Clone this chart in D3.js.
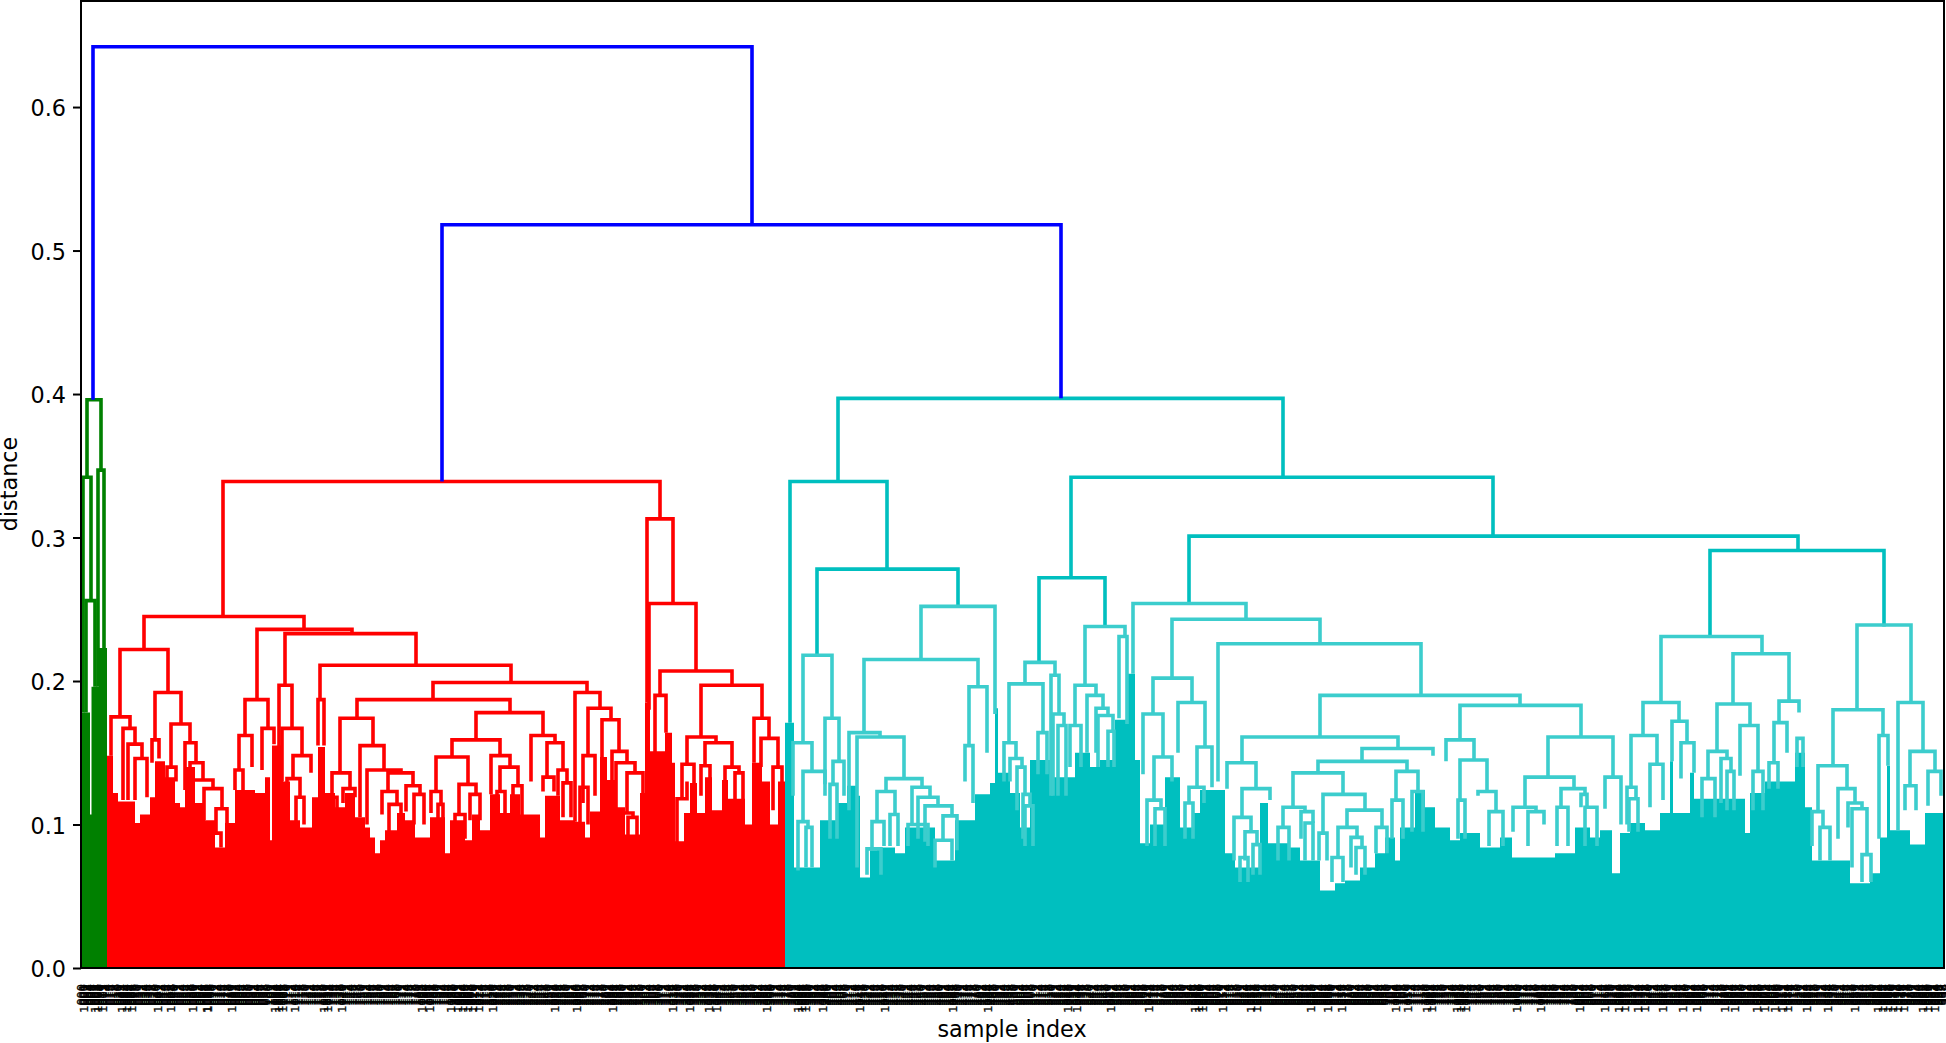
<!DOCTYPE html>
<html>
<head>
<meta charset="utf-8">
<script src="https://cdnjs.cloudflare.com/ajax/libs/d3/7.8.5/d3.min.js"></script>
<style>
body { margin: 0; background: #fff; }
text { font-family: "DejaVu Sans", sans-serif; fill: #000; }
</style>
</head>
<body>
<div id="chart"></div>
<script>
const w = 1946;
const h = 1043;
const margin = {top: 1, right: 1, bottom: 75, left: 81};

const COLORS = {blue: "#0000ff", green: "#008000", red: "#ff0000", teal: "#00bfbf", tealLow: "#3ccdcd"};

// every link: [left x, right x, merge height, left leg bottom, right leg bottom]
const blueLinks = [
    [12,671,.642,.396,.518],[361,980,.518,.339,.397]
];

const greenLinks = [
    [6,20,.396,.342,.347],[2,10,.342,.178,.256],[5,14,.256,.178,.196],[17,23,.347,.196,.223]
];

const redLinks = [
    [142,579,.339,.245,.313],[63,223,.245,.222,.236],[39,87,.222,.175,.192],[30,49,.175,.148,.167],
    [42,54,.167,.117,.156],[47,61,.156,.117,.146],[54,66,.146,.117,.119],[74,100,.192,.159,.170],
    [71,78,.159,.143,.146],[90,109,.170,.140,.157],[86,95,.140,.120,.130],[104,115,.157,.124,.143],
    [109,122,.143,.120,.131],[111,132,.131,.110,.125],[123,141,.125,.103,.111],[135,146,.111,.094,.101],
    [130,140,.094,.083,.084],[176,271,.236,.187,.233],[164,187,.187,.162,.167],[158,171,.162,.138,.140],
    [154,162,.138,.124,.124],[181,193,.167,.138,.156],[204,335,.233,.197,.211],[198,211,.197,.150,.167],
    [201,221,.167,.130,.148],[212,230,.148,.132,.136],[206,219,.132,.115,.119],[215,223,.119,.100,.100],
    [239,430,.211,.187,.199],[237,243,.187,.155,.155],[352,506,.199,.187,.192],[276,429,.187,.174,.178],
    [259,292,.174,.136,.155],[251,269,.136,.119,.125],[247,256,.119,.100,.100],[262,274,.125,.115,.119],
    [279,303,.155,.105,.138],[286,320,.138,.100,.136],[307,332,.136,.123,.127],[301,316,.123,.107,.114],
    [308,320,.114,.095,.095],[325,339,.127,.109,.121],[333,343,.121,.100,.100],[395,462,.178,.159,.162],
    [371,419,.159,.147,.148],[355,387,.147,.123,.128],[350,360,.123,.108,.114],[357,362,.114,.095,.095],
    [378,395,.128,.107,.121],[374,384,.107,.090,.090],[389,399,.121,.103,.103],[410,429,.148,.121,.140],
    [419,437,.140,.123,.127],[416,424,.123,.100,.105],[432,441,.127,.105,.105],[450,474,.162,.130,.157],
    [466,482,.157,.133,.138],[462,473,.133,.123,.123],[477,486,.138,.120,.129],[482,490,.129,.105,.105],
    [494,519,.192,.102,.181],[499,507,.126,.100,.100],[507,530,.181,.148,.173],[502,514,.148,.115,.120],
    [521,538,.173,.147,.151],[531,546,.151,.115,.143],[535,554,.143,.110,.136],[546,562,.136,.108,.118],
    [539,552,.108,.085,.105],[547,556,.105,.085,.085],[566,592,.313,.185,.254],[568,615,.254,.180,.207],
    [579,651,.207,.190,.197],[574,585,.190,.150,.164],[620,681,.197,.161,.174],[606,635,.161,.142,.157],
    [601,613,.142,.118,.129],[596,606,.118,.087,.130],[593,602,.087,.060,.060],[624,651,.157,.141,.140],
    [620,629,.141,.120,.120],[644,658,.140,.110,.136],[654,662,.136,.110,.115],[673,688,.174,.143,.160],
    [680,697,.160,.140,.140],[692,701,.140,.110,.110]
];

const tealLinks = [
    [757,1202,.397,.339,.342],[709,806,.339,.171,.278],[736,877,.278,.218,.252],[722,751,.218,.157,.174],
    [712,731,.157,.120,.137],[722,744,.137,.102,.120],[717,727,.102,.068,.098],[725,731,.098,.070,.070],
    [744,758,.174,.128,.144],[752,763,.144,.128,.120],[749,756,.128,.090,.090],[840,914,.252,.215,.177],
    [783,897,.215,.164,.196],[768,799,.164,.110,.161],[776,823,.161,.070,.132],[805,841,.132,.123,.126],
    [796,814,.123,.102,.107],[791,803,.102,.083,.085],[786,800,.083,.065,.065],[809,817,.107,.085,.085],
    [831,849,.126,.100,.119],[827,847,.100,.085,.085],[837,857,.119,.090,.113],[844,871,.113,.088,.106],
    [862,876,.106,.089,.082],[854,871,.089,.070,.075],[888,906,.196,.155,.150],[884,892,.155,.130,.115],
    [990,1412,.342,.272,.301],[958,1024,.272,.213,.239],[944,974,.213,.198,.204],[928,962,.198,.157,.164],
    [923,935,.157,.130,.146],[929,941,.146,.130,.140],[936,944,.140,.110,.121],[942,949,.121,.090,.113],
    [944,952,.113,.085,.085],[957,966,.164,.135,.135],[970,978,.204,.120,.177],[972,983,.177,.120,.169],
    [977,985,.169,.120,.120],[1004,1044,.238,.197,.231],[994,1015,.197,.169,.190],[989,1000,.169,.140,.140],
    [1006,1022,.190,.150,.181],[1015,1027,.181,.150,.176],[1017,1032,.176,.140,.165],[1027,1033,.165,.140,.140],
    [1038,1046,.231,.174,.170],[1108,1717,.301,.254,.291],[1052,1165,.254,.205,.243],[1091,1239,.243,.202,.226],
    [1072,1111,.202,.177,.185],[1062,1082,.177,.135,.147],[1073,1091,.147,.117,.130],[1066,1080,.117,.085,.111],
    [1074,1084,.111,.085,.085],[1097,1124,.185,.150,.154],[1116,1131,.154,.126,.126],[1108,1123,.126,.115,.115],
    [1104,1112,.115,.090,.090],[1137,1340,.226,.130,.190],[1239,1439,.190,.161,.183],[1161,1317,.161,.143,.153],
    [1146,1175,.143,.125,.125],[1161,1189,.125,.105,.117],[1153,1170,.105,.075,.095],[1164,1176,.095,.075,.086],
    [1172,1179,.086,.065,.065],[1159,1167,.077,.060,.060],[1281,1352,.153,.144,.148],[1237,1326,.144,.136,.137],
    [1212,1262,.136,.112,.121],[1202,1224,.112,.098,.109],[1197,1208,.098,.075,.075],[1220,1232,.109,.090,.101],
    [1224,1232,.101,.075,.075],[1242,1284,.121,.094,.110],[1238,1246,.094,.075,.075],[1266,1301,.110,.098,.098],
    [1257,1276,.098,.077,.091],[1270,1281,.091,.070,.084],[1275,1284,.084,.065,.065],[1251,1262,.077,.060,.060],
    [1295,1306,.098,.080,.080],[1315,1337,.137,.117,.123],[1311,1322,.117,.090,.090],[1331,1342,.123,.095,.095],
    [1379,1500,.183,.159,.161],[1365,1393,.159,.144,.145],[1379,1406,.145,.117,.123],[1377,1384,.117,.090,.090],
    [1397,1415,.123,.120,.109],[1408,1422,.109,.085,.085],[1467,1532,.161,.133,.133],[1444,1493,.133,.112,.125],
    [1432,1455,.112,.095,.109],[1447,1463,.109,.085,.100],[1480,1504,.125,.112,.121],[1476,1487,.112,.085,.085],
    [1500,1506,.121,.112,.112],[1504,1516,.112,.085,.085],[1524,1540,.133,.111,.100],
    [1629,1803,.291,.231,.238],[1580,1681,.231,.185,.219],[1562,1598,.185,.162,.172],[1550,1576,.162,.126,.142],
    [1546,1555,.126,.100,.118],[1548,1557,.118,.095,.095],[1569,1582,.142,.112,.117],[1591,1606,.172,.144,.157],
    [1600,1613,.157,.132,.136],[1652,1708,.219,.184,.186],[1636,1669,.184,.151,.169],[1627,1646,.151,.132,.146],
    [1621,1634,.132,.105,.105],[1640,1650,.146,.115,.137],[1646,1653,.137,.110,.110],[1659,1677,.169,.134,.137],
    [1672,1682,.137,.110,.110],[1698,1718,.186,.171,.178],[1693,1706,.171,.143,.150],[1688,1697,.143,.125,.125],
    [1716,1722,.160,.140,.140],[1776,1830,.239,.180,.185],[1752,1802,.180,.141,.162],[1737,1766,.141,.109,.125],
    [1731,1742,.109,.085,.098],[1739,1749,.098,.075,.075],[1757,1774,.125,.090,.115],[1767,1781,.115,.098,.111],
    [1771,1786,.111,.070,.079],[1781,1790,.079,.060,.060],[1798,1807,.162,.090,.141],[1817,1842,.185,.096,.151],
    [1829,1854,.151,.127,.137],[1824,1835,.127,.110,.110],[1847,1860,.137,.113,.120]
];

// top of the packed leaves: [x where the level starts, distance]
const greenFloor = [[1,.178],[9,.107],[10.5,.196],[18,.223],[26,.223]];

const redFloor = [
    [26,.148],[32,.122],[37,.116],[54,.101],[59,.107],[69,.119],[74,.144],[84,.133],[94,.115],[99,.112],
    [104,.140],[114,.115],[124,.103],[134,.084],[144,.101],[154,.124],[174,.122],[184,.133],[189,.089],[191,.155],
    [202,.130],[209,.103],[219,.098],[231,.119],[237,.154],[244,.122],[254,.112],[264,.122],[274,.105],[284,.098],
    [289,.091],[294,.080],[299,.089],[304,.096],[316,.108],[324,.103],[334,.091],[349,.105],[364,.080],[369,.103],
    [384,.089],[391,.107],[399,.096],[409,.121],[419,.108],[429,.121],[439,.107],[459,.091],[464,.120],[479,.103],
    [494,.102],[504,.091],[509,.109],[519,.147],[526,.131],[534,.112],[544,.093],[559,.122],[564,.185],[569,.151],
    [584,.164],[591,.143],[594,.087],[603,.108],[609,.129],[616,.108],[624,.133],[631,.110],[641,.131],[647,.118],
    [654,.118],[664,.100],[671,.143],[681,.130],[689,.100],[697,.130],[704,.130]
];

const tealFloor = [
    [704,.171],[713,.070],[739,.103],[757,.115],[766,.127],[777,.120],[779,.063],[789,.082],[796,.084],[814,.080],
    [824,.098],[854,.075],[874,.103],[894,.121],[909,.129],[914,.181],[917,.136],[929,.122],[939,.098],[949,.145],
    [969,.133],[994,.150],[1009,.140],[1019,.145],[1034,.173],[1046,.205],[1054,.145],[1059,.087],[1069,.100],[1084,.133],
    [1099,.098],[1111,.108],[1119,.124],[1144,.080],[1154,.070],[1179,.115],[1187,.087],[1209,.084],[1219,.075],[1239,.054],
    [1254,.059],[1264,.061],[1279,.070],[1294,.080],[1304,.091],[1314,.075],[1319,.098],[1334,.124],[1344,.112],[1354,.098],
    [1369,.089],[1379,.094],[1399,.084],[1419,.091],[1431,.077],[1474,.080],[1494,.098],[1509,.091],[1519,.096],[1531,.066],
    [1539,.094],[1549,.101],[1564,.096],[1579,.108],[1589,.144],[1592,.108],[1609,.136],[1613,.118],[1664,.094],[1669,.122],
    [1684,.130],[1714,.150],[1724,.112],[1731,.075],[1769,.059],[1789,.066],[1799,.091],[1806,.141],[1809,.096],[1829,.086],
    [1844,.108],[1864,.108]
];

const yTicks = [0, 0.1, 0.2, 0.3, 0.4, 0.5, 0.6];

// the sample labels are an unreadable band, only the spots with a 4 digit label can be read
const threeDigitCount = 1000;
const fourDigitSpots = [
    3,14,17,22,41,46,51,77,90,112,126,127,151,194,198,202,214,243,247,261,341,349,370,377,382,387,392,398,412,474,
    496,532,592,609,628,636,686,717,721,725,742,779,804,872,907,987,996,1030,1068,1114,1118,1122,1142,1170,1176,1230,1247,1261,1315,1327,
    1346,1351,1376,1380,1385,1436,1460,1499,1524,1538,1544,1557,1564,1582,1602,1616,1644,1654,1676,1684,1694,1702,1707,1726,1747,1774,1797,1802,1807,1812,
    1817,1823,1842,1847,1854
];

const svg = d3.select("#chart")
                .append("svg")
                .attr("width", w)
                .attr("height", h);

const xScale = d3.scaleLinear()
                    .domain([0, 1864])
                    .range([margin.left, w - margin.right]);

const yScale = d3.scaleLinear()
                    .domain([0, 0.6746])
                    .range([h - margin.bottom, margin.top - 1]);

const floorArea = d3.area()
                    .x(d => xScale(d[0]))
                    .y0(yScale(0))
                    .y1(d => yScale(d[1]))
                    .curve(d3.curveStepAfter);

const linkLine = d3.line()
                    .x(d => xScale(d[0]))
                    .y(d => yScale(d[1]));

// packed leaves first, links go over them
[[greenFloor, COLORS.green], [redFloor, COLORS.red], [tealFloor, COLORS.teal]].forEach(function(f) {
    svg.append("path")
        .attr("d", floorArea(f[0]))
        .attr("fill", f[1]);
});

function drawLinks(links, color) {
    svg.append("g")
        .selectAll("path")
        .data(links)
        .enter()
        .append("path")
        .attr("d", d => linkLine([[d[0], d[3]], [d[0], d[2]], [d[1], d[2]], [d[1], d[4]]]))
        .attr("fill", "none")
        .attr("stroke", color)
        .attr("stroke-width", 3.6);
}

drawLinks(greenLinks, () => COLORS.green);
drawLinks(redLinks, () => COLORS.red);
drawLinks(tealLinks, d => d[2] < 0.26 ? COLORS.tealLow : COLORS.teal);
drawLinks(blueLinks, () => COLORS.blue);

// frame
svg.append("rect")
    .attr("x", xScale(0))
    .attr("y", yScale.range()[1] + 1)
    .attr("width", xScale.range()[1] - xScale(0) - 1)
    .attr("height", yScale(0) - yScale.range()[1] - 1)
    .attr("fill", "none")
    .attr("stroke", "#000")
    .attr("stroke-width", 2);

// y axis
const yAxis = svg.append("g")
    .attr("transform", "translate(" + xScale(0) + ",0)")
    .call(d3.axisLeft(yScale).tickValues(yTicks).tickFormat(d3.format(".1f")).tickSize(8).tickPadding(7));
yAxis.select(".domain").remove();
yAxis.selectAll("line").attr("stroke", "#000").attr("stroke-width", 2);
yAxis.selectAll("text").attr("dy", "0.4em").style("font-size", "22.3px").attr("fill", "#000");

// x labels, rotated and packed tight
const xTicks = d3.range(threeDigitCount).map(i => ({
    pos: i * 1864 / (threeDigitCount - 1),
    label: String(i).padStart(3, "0")
})).concat(fourDigitSpots.map((pos, i) => ({
    pos: pos,
    label: "1" + String(i).padStart(3, "0")
})));

svg.append("g")
    .selectAll("text")
    .data(xTicks)
    .enter()
    .append("text")
    .attr("transform", d => "translate(" + xScale(d.pos) + "," + (yScale(0) + 16) + ") rotate(-90)")
    .attr("text-anchor", "end")
    .attr("dy", "0.36em")
    .style("font-size", "11.3px")
    .style("stroke", "#000")
    .style("stroke-width", 0.3)
    .text(d => d.label);

// axis titles
svg.append("text")
    .attr("transform", "translate(17,484) rotate(-90)")
    .attr("text-anchor", "middle")
    .style("font-size", "22.3px")
    .text("distance");

svg.append("text")
    .attr("x", 1012)
    .attr("y", 1037)
    .attr("text-anchor", "middle")
    .style("font-size", "22.3px")
    .text("sample index");
</script>
</body>
</html>
